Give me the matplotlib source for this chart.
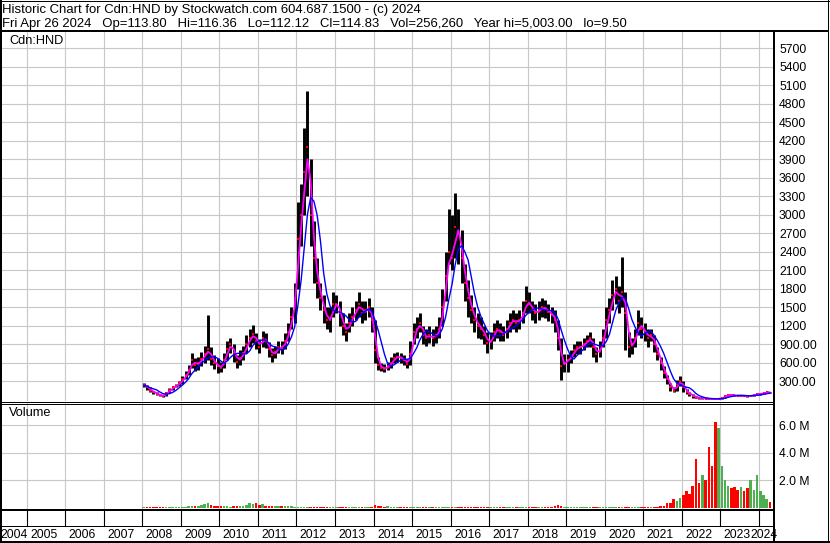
import numpy as np
import pandas as pd
import matplotlib
matplotlib.use('Agg')
import matplotlib.pyplot as plt
from matplotlib.lines import Line2D
from matplotlib.transforms import offset_copy

plt.rcParams['font.family'] = ['Liberation Sans', 'DejaVu Sans']

W, H = 830, 543

# monthly bars, Jan 2008 .. Apr 2024
months = pd.date_range('2008-01-01', '2024-04-01', freq='MS') + pd.Timedelta(days=14)

closes = [
    240, 200, 150, 120, 95, 70, 60, 110, 160, 200, 230, 270,
    330, 400, 480, 640, 560, 600, 660, 740, 820, 660, 600, 540,
    520, 650, 820, 900, 760, 620, 680, 760, 900, 1000, 1060, 950,
    860, 1000, 960, 820, 720, 780, 860, 840, 950, 1100, 1350, 1650,
    2600, 3000, 3700, 4100, 3000, 2300, 1900, 1650, 1450, 1300, 1300, 1550,
    1550, 1400, 1200, 1100, 1250, 1350, 1450, 1550, 1400, 1450, 1500, 1300,
    800, 560, 520, 500, 540, 600, 680, 700, 680, 640, 580, 750,
    1100, 1150, 1250, 1050, 1000, 1050, 1000, 1050, 1150, 1500, 2000, 2400,
    2300, 2800, 2700, 2300, 1900, 1650, 1450, 1300, 1200, 1150, 1050, 920,
    950, 1100, 1150, 1100, 1050, 1150, 1250, 1300, 1250, 1300, 1400, 1600,
    1550, 1450, 1400, 1450, 1500, 1480, 1420, 1380, 1300, 1000, 550, 600,
    650, 700, 800, 850, 850, 900, 950, 1000, 850, 750, 800, 1000,
    1300, 1450, 1700, 1800, 1600, 1750, 1400, 850, 900, 1000, 1250, 1150,
    1100, 1000, 1050, 900, 750, 600, 430, 330, 200, 150, 250, 300,
    200, 120, 90, 60, 35, 25, 25, 18, 15, 12, 11, 20,
    30, 55, 80, 75, 70, 65, 68, 65, 60, 65, 80, 95,
    95, 110, 120, 115,
]
highs = [
    270, 240, 200, 150, 120, 95, 80, 130, 185, 230, 260, 310,
    380, 470, 560, 760, 680, 700, 780, 880, 1375, 860, 720, 680,
    620, 760, 950, 1000, 900, 720, 800, 880, 1050, 1150, 1220, 1080,
    980, 1120, 1080, 940, 840, 880, 960, 960, 1080, 1250, 1500, 1900,
    3200, 3500, 4400, 5003, 3900, 2900, 2300, 1900, 1700, 1500, 1500, 1750,
    1700, 1600, 1400, 1250, 1400, 1500, 1600, 1750, 1600, 1600, 1650, 1500,
    1300, 700, 600, 580, 620, 700, 760, 780, 760, 720, 660, 950,
    1250, 1350, 1400, 1200, 1150, 1200, 1150, 1200, 1350, 1800, 2400, 3100,
    3000, 3350, 3100, 2750, 2200, 1950, 1700, 1500, 1400, 1350, 1200, 1100,
    1100, 1250, 1300, 1250, 1200, 1300, 1400, 1450, 1400, 1450, 1600, 1850,
    1750, 1600, 1550, 1600, 1650, 1620, 1560, 1500, 1450, 1300, 1000, 750,
    750, 800, 900, 950, 950, 1000, 1050, 1100, 1000, 850, 950, 1150,
    1500, 1650, 1950, 2000, 1850, 2320, 1750, 1100, 1000, 1150, 1450, 1350,
    1250, 1150, 1150, 1050, 850, 700, 550, 400, 280, 200, 320, 380,
    300, 180, 130, 90, 55, 40, 35, 30, 22, 18, 16, 30,
    45, 70, 95, 90, 85, 80, 80, 78, 72, 80, 95, 110,
    110, 125, 135, 125,
]
lows = [
    200, 160, 130, 100, 80, 55, 50, 60, 110, 160, 200, 230,
    260, 330, 400, 520, 460, 480, 540, 600, 640, 560, 500, 440,
    450, 520, 640, 760, 620, 520, 560, 640, 760, 860, 920, 820,
    760, 860, 840, 700, 620, 680, 760, 740, 820, 960, 1150, 1250,
    1800, 2500, 3000, 3300, 2500, 1900, 1650, 1450, 1250, 1150, 1100, 1350,
    1400, 1200, 1050, 950, 1100, 1200, 1300, 1350, 1250, 1300, 1350, 1100,
    600, 480, 460, 450, 480, 520, 600, 620, 600, 560, 520, 560,
    900, 1000, 1100, 900, 880, 920, 880, 920, 1000, 1200, 1600, 2200,
    2100, 2300, 2200, 1900, 1600, 1350, 1250, 1100, 1000, 980, 900, 760,
    820, 950, 1000, 950, 950, 1000, 1100, 1150, 1100, 1150, 1250, 1400,
    1400, 1300, 1250, 1300, 1350, 1330, 1280, 1250, 1100, 800, 320, 450,
    450, 600, 700, 750, 750, 800, 850, 850, 700, 620, 700, 850,
    1000, 1250, 1450, 1550, 1400, 1500, 800, 700, 750, 850, 1050, 1000,
    950, 850, 950, 780, 650, 480, 350, 250, 150, 120, 150, 220,
    120, 90, 60, 35, 25, 18, 15, 12, 11, 9.5, 9.5, 10,
    18, 30, 60, 60, 55, 55, 58, 55, 50, 55, 65, 80,
    85, 95, 105, 105,
]
# volume in millions of shares
volume_m = [
    .05, .06, .05, .06, .05, .08, .06, .07, .05, .06, .05, .06,
    .06, .08, .10, .12, .10, .15, .20, .25, .35, .20, .15, .10,
    .10, .12, .10, .08, .10, .12, .15, .12, .20, .35, .25, .30,
    .20, .25, .15, .12, .10, .10, .12, .10, .15, .12, .10, .08,
    .06, .05, .05, .06, .05, .06, .05, .05, .06, .05, .06, .05,
    .05, .06, .05, .05, .06, .05, .05, .06, .05, .05, .06, .08,
    .20, .12, .10, .08, .15, .08, .06, .06, .05, .06, .05, .06,
    .05, .06, .05, .05, .06, .05, .05, .06, .05, .06, .05, .06,
    .05, .05, .06, .05, .05, .06, .05, .05, .06, .05, .05, .06,
    .05, .06, .05, .05, .06, .05, .05, .06, .05, .05, .06, .05,
    .05, .06, .05, .05, .06, .05, .06, .08, .12, .18, .10, .08,
    .06, .05, .06, .05, .05, .06, .05, .05, .06, .05, .05, .06,
    .05, .06, .08, .06, .05, .06, .05, .06, .05, .05, .06, .08,
    .06, .05, .06, .05, .08, .10, .15, .30, .35, .60, .50, .70,
    .9, 1.2, 1.0, 1.6, 3.5, 1.8, 2.4, 2.0, 4.4, 3.0, 6.2, 5.8,
    3.0, 2.0, 1.6, 1.4, 1.5, 1.3, 1.5, 1.2, 1.4, 2.0, 1.3, 2.4,
    1.2, 0.9, 0.6, 0.4,
]
years = list(range(2004, 2025))
price_ticks = list(range(300, 5701, 300))
vol_ticks = [2e6, 4e6, 6e6]

header1 = 'Historic Chart for Cdn:HND by Stockwatch.com 604.687.1500 - (c) 2024'
header2 = ('Fri Apr 26 2024   Op=113.80   Hi=116.36   Lo=112.12   Cl=114.83   '
           'Vol=256,260   Year hi=5,003.00   lo=9.50')

closes = np.array(closes, dtype=float)
highs = np.array(highs, dtype=float)
lows = np.array(lows, dtype=float)
vol = np.array(volume_m) * 1e6
ma_fast = pd.Series(closes).rolling(2, min_periods=1).mean()
ma_slow = pd.Series(closes).rolling(5, min_periods=1).mean()
up = np.r_[True, np.diff(closes) >= 0]


def rect(x0, y0, x1, y1):
    return [x0 / W, 1 - y1 / H, (x1 - x0) / W, (y1 - y0) / H]


fig = plt.figure(figsize=(W / 100, H / 100), dpi=100)
ax_p = fig.add_axes(rect(1, 31, 774, 401))
ax_v = fig.add_axes(rect(1, 403, 774, 509))
ax_d = fig.add_axes(rect(1, 509, 774, 541))

x0, x1 = pd.Timestamp('2004-05-02'), pd.Timestamp('2024-05-24')
year_starts = [pd.Timestamp(f'{y}-01-01') for y in years[1:]]
grid_col = '#c8c8c8'

for ax in (ax_p, ax_v, ax_d):
    ax.set_xlim(x0, x1)
    for s in ax.spines.values():
        s.set_visible(False)
    ax.set_xticks(year_starts)
    ax.tick_params(axis='x', length=0, labelbottom=False)

# price panel
ax_p.vlines(months, lows, highs, color='black', lw=2.1)
ax_p.plot(months, closes, ls='none', marker='s', ms=2.0, mew=0, color='red')
ax_p.plot(months, ma_fast, color='#ff00ff', lw=1.3)
ax_p.plot(months, ma_slow, color='#0000ff', lw=1.0)
ax_p.set_ylim(-20, 5980)
ax_p.set_yticks(price_ticks)
ax_p.set_yticklabels([f'{v:.0f}' if v >= 1000 else f'{v:.2f}' for v in price_ticks])

# volume panel
ax_v.bar(months, vol, width=24, color=np.where(up, '#4cb050', '#ff0000'), lw=0)
ax_v.set_ylim(-0.1e6, 7.6e6)
ax_v.set_yticks(vol_ticks)
ax_v.set_yticklabels([f'{v / 1e6:.1f} M' for v in vol_ticks])

for ax in (ax_p, ax_v):
    ax.set_axisbelow(True)
    ax.grid(True, color=grid_col, lw=0.8)
    ax.yaxis.tick_right()
    ax.tick_params(axis='y', length=0, pad=3.6, labelsize=8.7)

# date strip
ax_d.set_ylim(0, 1)
ax_d.set_yticks([])
for d in year_starts:
    ax_d.axvline(d, ymin=15 / 32, ymax=1, color='black', lw=0.8)
lab_tr = offset_copy(ax_d.get_xaxis_transform(), fig=fig, x=3.5, units='dots')
for y in years:
    if y == 2004:
        fig.text(0, 1 - 535 / H, str(y), fontsize=8.7, va='center')
    elif y == 2024:
        fig.text(778 / W, 1 - 535 / H, str(y), fontsize=8.7, va='center', ha='right')
    else:
        ax_d.text(pd.Timestamp(f'{y}-01-01'), 6 / 32, str(y), transform=lab_tr,
                  fontsize=8.7, va='center', ha='left')

fig.text(9 / W, 1 - 41 / H, 'Cdn:HND', fontsize=9.2, va='center')
fig.text(9 / W, 1 - 413 / H, 'Volume', fontsize=9.2, va='center')
fig.text(2 / W, 1 - 12.5 / H, header1, fontsize=9.45, va='baseline')
fig.text(2 / W, 1 - 27 / H, header2, fontsize=9.45, va='baseline')


# frame and panel borders, in pixels
def hline(y, xa, xb, px):
    fig.add_artist(Line2D([xa / W, xb / W], [1 - y / H, 1 - y / H], color='black',
                          lw=px * 0.72, transform=fig.transFigure, antialiased=False))


def vline(x, ya, yb, px):
    fig.add_artist(Line2D([x / W, x / W], [1 - ya / H, 1 - yb / H], color='black',
                          lw=px * 0.72, transform=fig.transFigure, antialiased=False))


hline(0.5, 0, W, 1)
hline(30.5, 0, 828, 2)
hline(401.5, 0, 774, 1)
hline(403.5, 0, 774, 1)
hline(509.5, 0, 774, 2)
hline(526, 0, 774, 1)
hline(542, 0, W, 2)
vline(1, 0, H, 2)
vline(774, 31, H, 2)
vline(828, 0, H, 1)

fig.savefig('out.png', dpi=100)
